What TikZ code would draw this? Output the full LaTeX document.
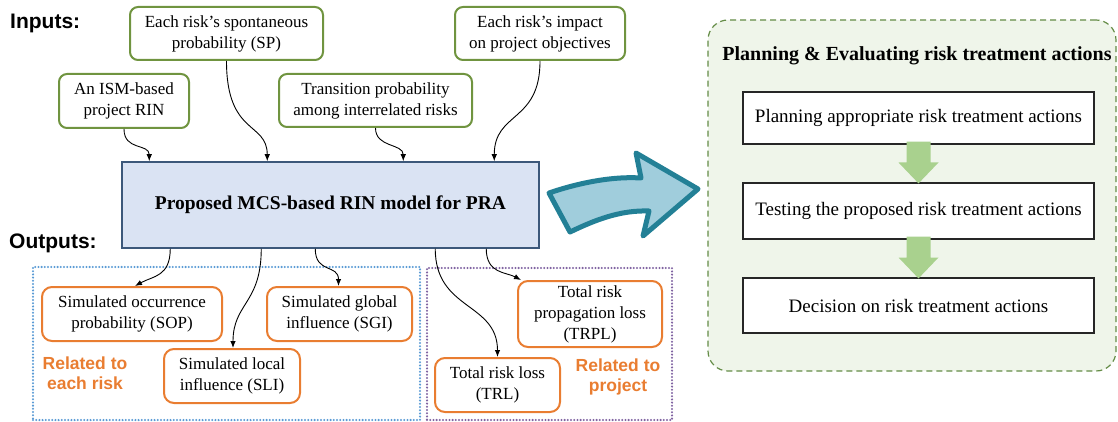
\documentclass[tikz,border=0pt]{standalone}
\usepackage{fontspec}
\setmainfont{Liberation Serif}
\setsansfont{Liberation Sans}
\usetikzlibrary{arrows.meta,calc}

\definecolor{ingreen}{RGB}{112,148,64}
\definecolor{outorange}{RGB}{233,125,49}
\definecolor{mainfill}{RGB}{218,227,243}
\definecolor{mainline}{RGB}{60,88,122}
\definecolor{dotblue}{RGB}{91,155,213}
\definecolor{dotpurple}{RGB}{128,100,162}
\definecolor{bigfill}{RGB}{160,205,220}
\definecolor{bigline}{RGB}{35,128,150}
\definecolor{panelfill}{RGB}{239,245,234}
\definecolor{panelline}{RGB}{100,140,70}
\definecolor{stepgreen}{RGB}{169,209,142}

\tikzset{
  txt/.style={font=\fontsize{17}{21}\selectfont, align=center, inner sep=0pt},
  inbox/.style={txt, draw=ingreen, line width=2pt, rounded corners=8pt, fill=white},
  outbox/.style={txt, draw=outorange, line width=2pt, rounded corners=10pt, fill=white},
  mainbox/.style={draw=mainline, line width=1.5pt, fill=mainfill, inner sep=0pt,
    font=\fontsize{19.5}{23}\selectfont\bfseries},
  heading/.style={font=\fontsize{21}{24}\selectfont\sffamily\bfseries, inner sep=0pt, anchor=west},
  groupnote/.style={font=\fontsize{17.5}{20}\selectfont\sffamily\bfseries, text=outorange,
    align=center, inner sep=0pt},
  group/.style={line width=2.3pt, line cap=round, dash pattern=on 0pt off 3.2pt, inner sep=0pt},
  link/.style={line width=0.9pt, -{Latex[length=7pt,width=5.5pt]}},
  actbox/.style={draw=black!85, line width=1.2pt, fill=white, inner sep=0pt,
    minimum width=351pt, font=\fontsize{19}{23}\selectfont},
}

\begin{document}
\begin{tikzpicture}[x=1pt,y=-1pt]
\path[use as bounding box] (0,0) rectangle (1118,422);

% ---------- output groups ----------
\node[group, draw=dotblue, minimum width=387pt, minimum height=153pt] (grprisk) at (226.5,343.5) {};
\node[group, draw=dotpurple, minimum width=245pt, minimum height=152pt] (grpproj) at (549.5,344) {};

% ---------- headings ----------
\node[heading] (inputs) at (10,23) {Inputs:};
\node[heading] (outputs) at (9,243) {Outputs:};

% ---------- inputs ----------
\node[inbox, minimum width=193pt, minimum height=53pt] (sp) at (226.5,33.5)
  {Each risk’s spontaneous\\probability (SP)};
\node[inbox, minimum width=130pt, minimum height=54pt] (ism) at (124,101)
  {An ISM-based\\project RIN};
\node[inbox, minimum width=193pt, minimum height=53pt] (trans) at (375.5,100.5)
  {Transition probability\\among interrelated risks};
\node[inbox, minimum width=170pt, minimum height=53pt] (imp) at (540,33.5)
  {Each risk’s impact\\on project objectives};

% ---------- model ----------
\node[mainbox, minimum width=417pt, minimum height=86pt] (main) at (330.5,205)
  {Proposed MCS-based RIN model for PRA};

% ---------- outputs ----------
\node[outbox, minimum width=180pt, minimum height=54pt] (sop) at (132,314)
  {Simulated occurrence\\probability (SOP)};
\node[outbox, minimum width=145pt, minimum height=54pt] (sgi) at (339.5,314)
  {Simulated global\\influence (SGI)};
\node[outbox, minimum width=136pt, minimum height=54pt] (sli) at (232,376)
  {Simulated local\\influence (SLI)};
\node[outbox, minimum width=144pt, minimum height=66pt] (trpl) at (590,314)
  {Total risk\\propagation loss\\(TRPL)};
\node[outbox, minimum width=125pt, minimum height=54pt] (trl) at (497.5,385)
  {Total risk loss\\(TRL)};

\node[groupnote] (noterisk) at (85,373) {Related to\\each risk};
\node[groupnote] (noteproj) at (618,377) {Related to\\project};

% ---------- input connectors ----------
\draw[link] (ism.south) .. controls +(0,22) and +(0,-18) .. ([xshift=28pt]main.north west);
\draw[link] (sp.south) .. controls +(0,75) and +(0,-40) .. ([xshift=146pt]main.north west);
\draw[link] (trans.south) .. controls +(0,20) and +(0,-18) .. ([xshift=282pt]main.north west);
\draw[link] (imp.south) .. controls +(0,62) and +(0,-50) .. ([xshift=373pt]main.north west);

% ---------- output connectors ----------
\draw[link] ([xshift=49pt]main.south west) .. controls +(0,28) and +(18,-10) .. ([xshift=3pt]sop.north);
\draw[link] ([xshift=140pt]main.south west) .. controls +(0,55) and +(0,-45) .. ([xshift=1pt]sli.north);
\draw[link] ([xshift=194pt]main.south west) .. controls +(0,25) and +(0,-22) .. ([xshift=-1pt]sgi.north);
\draw[link] ([xshift=314pt]main.south west) .. controls +(0,62) and +(0,-55) .. (trl.north);
\draw[link] ([xshift=365pt]main.south west) .. controls +(0,25) and +(-15,-8) .. ([xshift=4pt]trpl.north west);

% ---------- curved block arrow ----------
\draw[fill=bigfill, draw=bigline, line width=5pt, line join=round]
  (549,193) .. controls (575,184) and (610,176) .. (641,178)
  -- (636,153) -- (698,189) -- (643,236) -- (649,211)
  .. controls (620,210) and (595,220) .. (570,232) -- cycle;

% ---------- treatment panel ----------
\node[draw=panelline, fill=panelfill, line width=1.2pt, dash pattern=on 6pt off 4pt,
  rounded corners=20pt, minimum width=408pt, minimum height=351pt, inner sep=0pt]
  (panel) at (912,195.5) {};
\node[font=\fontsize{20}{24}\selectfont\bfseries, inner sep=0pt] (ptitle) at (917,56)
  {Planning \& Evaluating risk treatment actions};
\node[actbox, minimum height=52pt] (act1) at (918.5,118) {Planning appropriate risk treatment actions};
\node[actbox, minimum height=56pt] (act2) at (918.5,211) {Testing the proposed risk treatment actions};
\node[actbox, minimum height=55pt] (act3) at (918.5,305.5) {Decision on risk treatment actions};

% block arrows between the steps
\foreach \a/\b in {act1/act2, act2/act3}{
  \path let \p1=(\a.south), \p2=(\b.north) in
    coordinate (s) at (\x1,\y1+3pt) coordinate (e) at (\x2,\y2-1pt);
  \fill[stepgreen] ($(s)+(-12,0)$) -- ($(s)+(12,0)$) -- ($(s)!0.5!(e)+(12,0)$)
    -- ($(s)!0.5!(e)+(20,0)$) -- (e) -- ($(s)!0.5!(e)+(-20,0)$)
    -- ($(s)!0.5!(e)+(-12,0)$) -- cycle;
}
\end{tikzpicture}
\end{document}
